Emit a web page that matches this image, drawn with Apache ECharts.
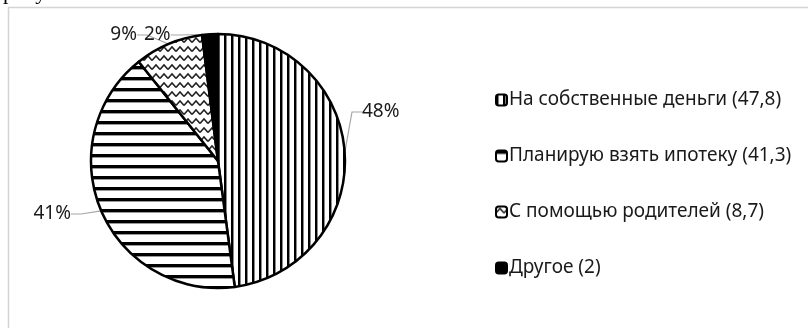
<!DOCTYPE html>
<html>
<head>
<meta charset="utf-8">
<script src="https://cdn.jsdelivr.net/npm/echarts@6/dist/echarts.min.js"></script>
<style>
  html, body { margin: 0; padding: 0; background: #fff; }
  #chart { width: 808px; height: 328px; }
</style>
</head>
<body>
<div id="chart"></div>
<script>
// Source of funds for buying housing, % of respondents
const categories = [
  'На собственные деньги (47,8)',
  'Планирую взять ипотеку (41,3)',
  'С помощью родителей (8,7)',
  'Другое (2)'
];
const values = [47.8, 41.3, 8.7, 2];

// Hand-placed label anchors (x, y, align) for the percentage labels
const labelAnchors = [
  [362, 112, 'left'],
  [71, 214, 'right'],
  [137, 35, 'right'],
  [144, 35, 'left']
];

// --- fill patterns -------------------------------------------------------
function makeCanvas(w, h, draw) {
  const c = document.createElement('canvas');
  c.width = w; c.height = h;
  const ctx = c.getContext('2d');
  ctx.fillStyle = '#fff';
  ctx.fillRect(0, 0, w, h);
  draw(ctx);
  return c;
}
const verticalStripes = makeCanvas(7, 7, ctx => {
  ctx.fillStyle = '#000';
  ctx.fillRect(0, 0, 2, 7);
  ctx.fillStyle = '#8a8a8a';
  ctx.fillRect(2, 0, 1, 7);
});
const horizontalStripes = makeCanvas(11, 11, ctx => {
  ctx.fillStyle = '#000';
  ctx.fillRect(0, 0, 11, 3);
  ctx.fillStyle = '#9a9a9a';
  ctx.fillRect(0, 3, 11, 1);
});
const waves = makeCanvas(8, 9, ctx => {
  ctx.strokeStyle = '#222';
  ctx.lineWidth = 1.5;
  ctx.beginPath();
  ctx.moveTo(0, 6.5);
  ctx.lineTo(4, 2);
  ctx.lineTo(8, 6.5);
  ctx.stroke();
});
const fills = [
  { image: verticalStripes, repeat: 'repeat' },
  { image: horizontalStripes, repeat: 'repeat' },
  { image: waves, repeat: 'repeat' },
  '#000'
];

const chart = echarts.init(document.getElementById('chart'), null, { renderer: 'canvas' });

const option = {
  animation: false,
  backgroundColor: '#fff',
  textStyle: { fontFamily: 'Noto Sans' },
  graphic: [
    {
      type: 'text',
      left: 3,
      top: -18,
      style: {
        text: 'рисунке 6 и 7.',
        font: '22px "Liberation Serif"',
        fill: '#000'
      }
    },
    {
      type: 'polyline',
      shape: { points: [[8.5, 330], [8.5, 7.5], [810, 7.5]] },
      style: { stroke: '#d4d4d4', lineWidth: 1.5, fill: null }
    }
  ],
  legend: {
    orient: 'vertical',
    left: 490,
    top: 85,
    itemWidth: 11,
    itemHeight: 11,
    itemGap: 36,
    icon: 'roundRect',
    textStyle: {
      fontSize: 19, lineHeight: 20, color: '#1a1a1a',
      fontFamily: 'Noto Sans', padding: [0, 0, 0, -3]
    },
    data: categories
  },
  series: [
    {
      type: 'pie',
      center: [218, 161],
      radius: [0, 127],
      startAngle: 90,
      clockwise: true,
      avoidLabelOverlap: false,
      itemStyle: { borderColor: '#000', borderWidth: 2.5 },
      label: {
        show: true,
        position: 'outside',
        fontSize: 19,
        color: '#1a1a1a',
        fontFamily: 'Noto Sans',
        formatter: p => Math.round(p.percent) + '%'
      },
      labelLine: {
        show: true,
        length: 8,
        length2: 10,
        lineStyle: { color: '#a6a6a6', width: 1.2 }
      },
      labelLayout: p => {
        const a = labelAnchors[p.dataIndex];
        return { x: a[0], y: a[1], align: a[2], verticalAlign: 'middle' };
      },
      emphasis: { disabled: true },
      data: categories.map((name, i) => ({
        name,
        value: values[i],
        itemStyle: { color: fills[i] }
      }))
    }
  ]
};
chart.setOption(option);
</script>
</body>
</html>
